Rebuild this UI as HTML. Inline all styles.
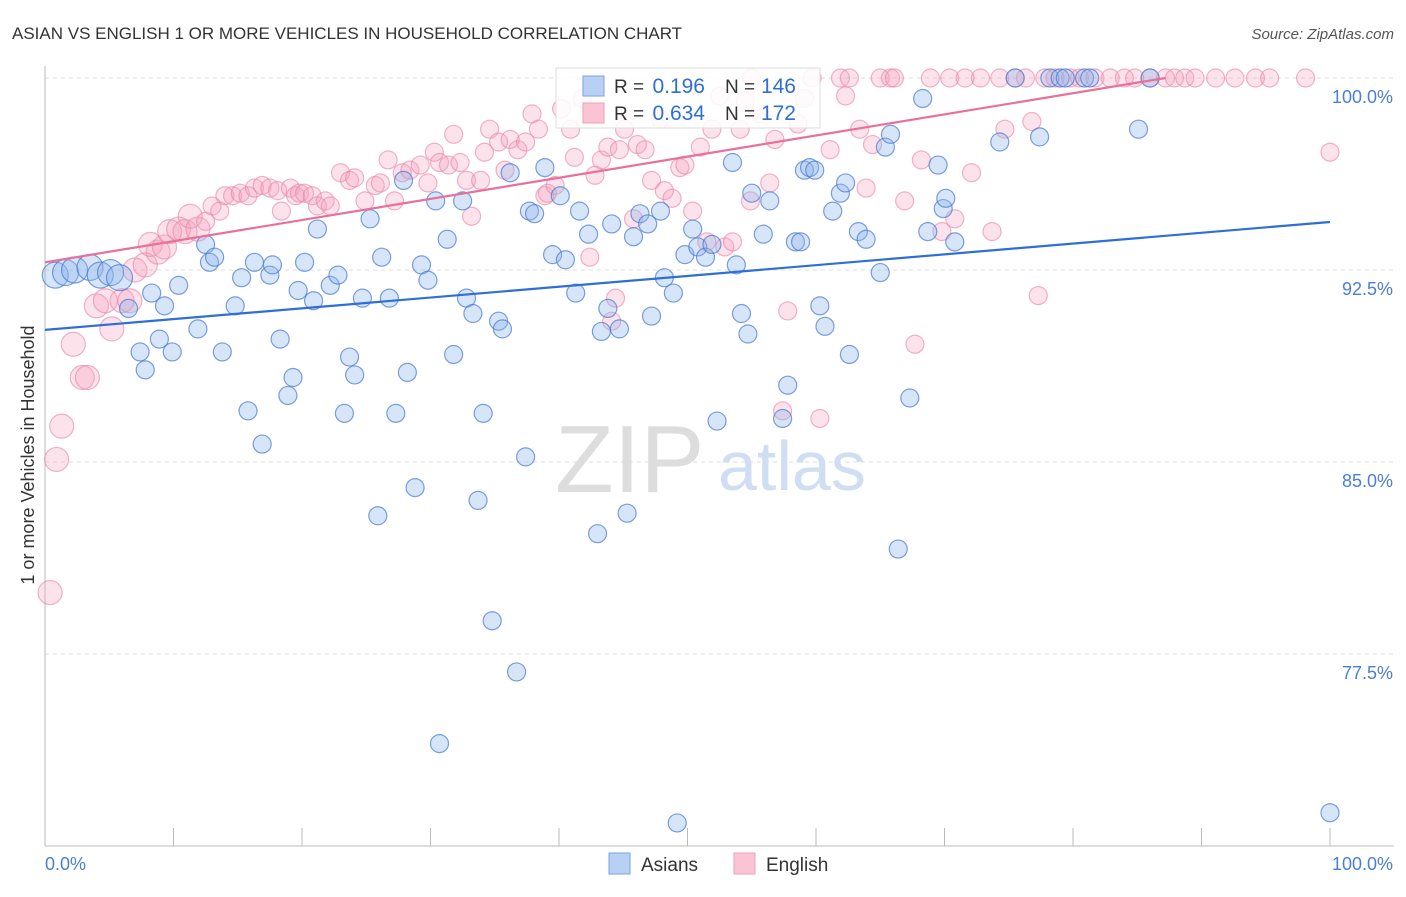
<!DOCTYPE html>
<html><head><meta charset="utf-8"><style>
body{margin:0;background:#fff;font-family:"Liberation Sans",sans-serif}
svg text{font-family:"Liberation Sans",sans-serif}
</style></head><body>
<svg id="c" width="1406" height="892"></svg>
<script>
const blueX=[0.8,1.6,2.3,3.5,4.3,5.1,5.8,6.5,7.4,7.8,8.3,8.9,9.3,9.9,10.4,11.9,12.5,12.8,13.2,13.8,14.8,15.3,15.8,16.3,16.9,17.5,17.7,18.3,18.9,19.3,19.7,20.2,20.9,21.2,22.2,22.8,23.3,23.7,24.1,24.7,25.3,25.9,26.2,26.8,27.3,27.9,28.2,28.8,29.3,29.8,30.4,30.7,31.3,31.8,32.5,32.8,33.3,33.7,34.1,34.8,35.3,35.6,36.2,36.7,37.4,37.7,38.1,38.9,39.5,40.1,40.5,41.3,41.6,42.3,43.0,43.3,43.8,44.1,44.7,45.3,45.8,46.3,46.9,47.2,47.9,48.2,48.9,49.2,49.8,50.4,50.8,51.4,51.9,52.3,53.5,53.8,54.2,54.7,55.0,55.9,56.4,57.4,57.8,58.4,58.8,59.1,59.5,59.9,60.3,60.7,61.3,61.9,62.3,62.6,63.3,63.9,65.0,65.4,65.8,66.4,67.3,68.3,68.7,69.5,69.9,70.1,70.8,74.3,75.5,77.4,78.2,79.0,79.4,80.9,81.3,85.1,86.0,100];
const blueY=[92.3,92.4,92.5,92.6,92.3,92.4,92.2,91.0,89.3,88.6,91.6,89.8,91.1,89.3,91.9,90.2,93.5,92.8,93.0,89.3,91.1,92.2,87.0,92.8,85.7,92.3,92.7,89.8,87.6,88.3,91.7,92.8,91.3,94.1,91.9,92.3,86.9,89.1,88.4,91.4,94.5,82.9,93.0,91.4,86.9,96.0,88.5,84.0,92.7,92.1,95.2,74.0,93.7,89.2,95.2,91.4,90.8,83.5,86.9,78.8,90.5,90.2,96.3,76.8,85.2,94.8,94.7,96.5,93.1,95.4,92.9,91.6,94.8,93.9,82.2,90.1,91.0,94.3,90.2,83.0,93.8,94.7,94.3,90.7,94.8,92.2,91.6,70.9,93.1,94.1,93.4,93.0,93.5,86.6,96.7,92.7,90.8,90.0,95.5,93.9,95.2,86.7,88.0,93.6,93.6,96.4,96.5,96.4,91.1,90.3,94.8,95.5,95.9,89.2,94.0,93.7,92.4,97.3,97.8,81.6,87.5,99.2,94.0,96.6,94.9,95.3,93.6,97.5,100,97.7,100,100,100,100,100,98.0,100,71.3];
const pinkX=[0.4,0.9,1.3,2.2,2.9,3.3,4.0,4.7,5.2,6.0,6.6,7.0,7.8,8.2,8.8,9.3,9.7,10.4,10.9,11.3,11.9,12.5,13.0,13.6,14.0,14.6,15.2,15.8,16.3,16.9,17.5,18.1,18.4,19.1,19.5,19.8,20.2,20.8,21.2,21.8,22.2,23.0,23.7,24.1,24.9,25.7,26.1,26.7,27.2,27.8,28.4,29.2,29.8,30.3,30.7,31.4,31.8,32.3,32.8,33.2,33.9,34.2,34.6,35.3,35.8,36.2,36.8,37.4,37.9,38.4,38.9,39.1,39.7,40.2,40.9,41.2,41.8,42.4,42.8,43.3,43.8,44.1,44.4,44.7,45.1,45.8,46.1,46.7,47.2,47.9,48.2,48.8,49.4,49.8,50.4,51.0,51.5,51.9,52.5,52.9,53.5,54.1,54.5,54.9,55.0,55.6,56.4,56.8,57.4,57.8,58.6,59.1,59.7,60.3,61.1,61.9,62.3,62.6,63.4,63.9,64.4,65.0,65.8,66.1,66.9,67.7,68.2,68.9,69.8,70.4,70.8,71.6,72.1,72.8,73.7,74.3,74.7,75.5,76.3,76.8,77.3,77.8,78.6,79.8,80.5,81.7,82.9,84.0,84.8,86.0,87.2,87.9,88.7,89.5,91.1,92.6,94.2,95.3,98.1,100];
const pinkY=[79.9,85.1,86.4,89.6,88.3,88.3,91.1,91.3,90.2,91.3,91.3,92.5,92.7,93.5,93.2,93.4,94.0,94.1,94.0,94.6,94.1,94.4,95.0,94.8,95.4,95.4,95.5,95.4,95.7,95.8,95.7,95.6,94.8,95.7,95.4,95.5,95.5,95.4,95.0,95.2,95.0,96.3,96.0,96.1,95.2,95.8,95.9,96.8,95.2,96.3,96.4,96.6,95.9,97.1,96.7,96.6,97.8,96.7,96.0,94.6,96.0,97.1,98.0,97.5,96.4,97.6,97.2,97.5,98.6,98.0,95.4,95.5,95.8,98.8,98.0,96.9,99.2,93.0,96.2,96.8,97.3,90.5,91.4,97.2,98.0,94.5,97.4,97.2,96.0,98.4,95.6,95.3,96.5,96.6,94.8,97.3,93.6,98.0,99.3,93.4,93.6,98.0,99.1,95.2,100,98.6,95.9,97.6,87.0,90.9,98.2,99.2,100,86.7,97.2,100,99.3,100,98.0,95.7,97.4,100,100,100,95.2,89.6,96.8,100,94.0,100,94.5,100,96.3,100,94.0,100,98.0,100,100,98.3,91.5,100,100,100,100,100,100,100,100,100,100,100,100,100,100,100,100,100,100,97.1];
const xTicks=["0.0%","100.0%"];
const yTicks=[100,92.5,85,77.5];
const blueTrend=[90.16,94.375];
const pinkTrend=[92.8,100];
const pinkTrendEndX=87.2;

const X0=45,X1=1330,YT=78,PX=25.6;
const sx=v=>X0+(X1-X0)*v/100;
const sy=v=>YT+(100-v)*PX;
const svg=document.getElementById('c');
const NS='http://www.w3.org/2000/svg';
function mk(t,a,txt){const e=document.createElementNS(NS,t);for(const k in a)e.setAttribute(k,a[k]);if(txt!==undefined)e.textContent=txt;svg.appendChild(e);return e;}

let e=mk('text',{x:12,y:39,'font-size':17,fill:'#333'},'ASIAN VS ENGLISH 1 OR MORE VEHICLES IN HOUSEHOLD CORRELATION CHART');

e=mk('text',{x:1394,y:39,'font-size':15,fill:'#555','text-anchor':'end','font-style':'italic'},'Source: ZipAtlas.com');


yTicks.forEach(v=>{
 e=mk('line',{x1:X0,x2:1394,y1:sy(v),y2:sy(v),stroke:'#ddd','stroke-dasharray':'4,4'});
 
 e=mk('text',{x:1393,y:sy(v)+25,'font-size':18,fill:'#4a7fd6','text-anchor':'end'},v.toFixed(1)+'%');
 
});
e=mk('line',{x1:X0,x2:X0,y1:66,y2:846,stroke:'#bbb'});

e=mk('line',{x1:X0,x2:1394,y1:846,y2:846,stroke:'#bbb'});

for(let i=1;i<=10;i++){e=mk('line',{x1:sx(i*10),x2:sx(i*10),y1:828,y2:846,stroke:'#bbb'});
 }
e=mk('text',{x:45,y:870,'font-size':18,fill:'#4a7fd6'},xTicks[0]);

e=mk('text',{x:1393,y:870,'font-size':18,fill:'#4a7fd6','text-anchor':'end'},xTicks[1]);

e=mk('text',{x:34,y:455,'font-size':18,fill:'#333','text-anchor':'middle',transform:'rotate(-90 34 455)'},'1 or more Vehicles in Household');


e=mk('text',{x:555,y:492,'font-size':96,fill:'#ddd','font-family':'Liberation Serif'},'ZIP');

e=mk('text',{x:718,y:490,'font-size':70,fill:'#cfdef3'},'atlas');


pinkX.forEach((x,i)=>{const r=x<12?12:9;
 e=mk('circle',{cx:sx(x),cy:sy(pinkY[i]),r:r,fill:'rgba(246,160,190,0.3)',stroke:'rgba(232,130,165,0.6)','stroke-width':1.2});
 });
blueX.forEach((x,i)=>{const r=x<6?13:9;
 e=mk('circle',{cx:sx(x),cy:sy(blueY[i]),r:r,fill:'rgba(140,180,235,0.35)',stroke:'rgba(70,120,210,0.7)','stroke-width':1.2});
 });

e=mk('line',{x1:sx(0),y1:sy(blueTrend[0]),x2:sx(100),y2:sy(blueTrend[1]),stroke:'#2d6fd6','stroke-width':2.2});

e=mk('line',{x1:sx(0),y1:sy(pinkTrend[0]),x2:sx(pinkTrendEndX),y2:sy(pinkTrend[1]),stroke:'#e8709a','stroke-width':2.2});


e=mk('rect',{x:556,y:68,width:264,height:60,fill:'rgba(255,255,255,0.85)',stroke:'#ddd'});

[[0,'#b8d0f4','#7aa3e3','0.196','146'],[1,'#fbc4d4','#eda0b8','0.634','172']].forEach(([k,f,s,r,n])=>{
 const y=86+k*27;
 e=mk('rect',{x:583,y:y-10,width:21,height:20,fill:f,stroke:s});
 
 e=mk('text',{x:614,y:y+7,'font-size':19,fill:'#333'},'R = ');
 
 e=mk('text',{x:705,y:y+7,'font-size':21,fill:'#2d6fd6','text-anchor':'end'},r);
 
 e=mk('text',{x:725,y:y+7,'font-size':19,fill:'#333'},'N = ');
 
 e=mk('text',{x:796,y:y+7,'font-size':21,fill:'#2d6fd6','text-anchor':'end'},n);
 
});

[[609,'#b8d0f4','#7aa3e3','Asians'],[734,'#fbc4d4','#eda0b8','English']].forEach(([x,f,s,t])=>{
 e=mk('rect',{x:x,y:853,width:21,height:21,fill:f,stroke:s});
 
 e=mk('text',{x:x+32,y:871,'font-size':19,fill:'#333'},t);
 
});
</script>
</body></html>
